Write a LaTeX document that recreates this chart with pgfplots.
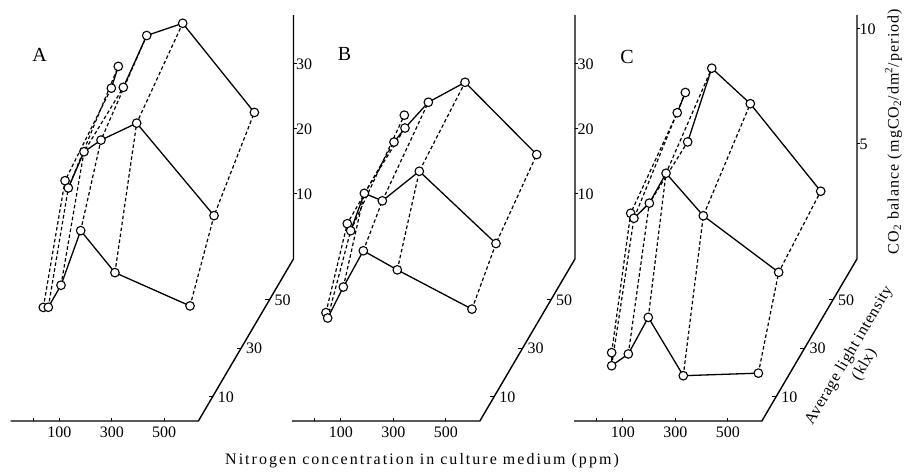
\documentclass[border=0pt]{standalone}
\usepackage{fontspec}
\setmainfont{Liberation Serif}
\usepackage{pgfplots}
\pgfplotsset{compat=1.18}
\newcommand\fs{\fontsize{16}{19}\selectfont}
\pgfplotsset{
  panel/.style={anchor=origin, x={(0.2625pt,0pt)}, y={(1.42pt,2.42pt)},
    xmin=-85, xmax=630, ymin=0, ymax=67, hide axis, clip=false},
  sol/.style={black, line width=1.3pt, no markers, solid},
  dsh/.style={black, line width=1.2pt, dash pattern=on 3.5pt off 2.5pt, no markers},
  pts/.style={only marks, mark=*, mark size=4.3pt,
    mark options={fill=white, draw=black, line width=1.1pt, solid}},
}
% frame of one panel: #1 = top of CO2 axis
\newcommand\frameNL[1]{%
  \draw[line width=1.4pt] (axis cs:-85,0,0) -- (axis cs:630,0,0) -- (axis cs:630,67,0) -- (axis cs:630,67,#1);
  \draw[line width=1pt] (axis cs:0,0,0) -- ++(0pt,3pt);
  \draw[line width=1pt] (axis cs:100,0,0) -- ++(0pt,3pt);
  \draw[line width=1pt] (axis cs:300,0,0) -- ++(0pt,3pt);
  \draw[line width=1pt] (axis cs:500,0,0) -- ++(0pt,3pt);
  \node[anchor=north, inner sep=0pt, yshift=-6pt, font=\fs] at (axis cs:100,0,0) {100};
  \node[anchor=north, inner sep=0pt, yshift=-6pt, font=\fs] at (axis cs:300,0,0) {300};
  \node[anchor=north, inner sep=0pt, yshift=-6pt, font=\fs] at (axis cs:500,0,0) {500};
  \draw[line width=1pt] (axis cs:630,10,0) -- ++(-4pt,0pt);
  \draw[line width=1pt] (axis cs:630,30,0) -- ++(-4pt,0pt);
  \draw[line width=1pt] (axis cs:630,50,0) -- ++(-4pt,0pt);
  \node[anchor=west, inner sep=0pt, xshift=5pt, font=\fs] at (axis cs:630,10,0) {10};
  \node[anchor=west, inner sep=0pt, xshift=5pt, font=\fs] at (axis cs:630,30,0) {30};
  \node[anchor=west, inner sep=0pt, xshift=5pt, font=\fs] at (axis cs:630,50,0) {50};
}
\begin{document}
\begin{tikzpicture}[x=1pt,y=1pt]
\useasboundingbox (0pt,0pt) rectangle (906pt,476pt);

% ---------------- Panel A ----------------
\begin{axis}[panel, at={(33pt,55pt)}, z={(0pt,6.5pt)}, zmin=0, zmax=37.5]
\frameNL{37.5}
\draw[line width=1pt] (axis cs:630,67,10) -- ++(3pt,0pt);
\draw[line width=1pt] (axis cs:630,67,20) -- ++(3pt,0pt);
\draw[line width=1pt] (axis cs:630,67,30) -- ++(3pt,0pt);
\node[anchor=west, inner sep=0pt, xshift=2.5pt, font=\fs] at (axis cs:630,67,10) {10};
\node[anchor=west, inner sep=0pt, xshift=2.5pt, font=\fs] at (axis cs:630,67,20) {20};
\node[anchor=west, inner sep=0pt, xshift=2.5pt, font=\fs] at (axis cs:630,67,30) {30};
\addplot3[dsh] coordinates {(15,4.5,15.8) (15,19.8,29.6) (15,52.4,31.7)};
\addplot3[dsh] coordinates {(35,4.3,15.9) (35,18.4,29.0) (35,53.6,34.6)};
\addplot3[dsh] coordinates {(85,4.0,19.4) (85,20.2,33.9) (85,47.9,33.5)};
\addplot3[dsh] coordinates {(160,4.0,27.8) (160,18.3,36.4) (160,50.5,40.5)};
\addplot3[dsh] coordinates {(290,4.1,21.3) (290,19.4,38.6) (290,51.8,41.9)};
\addplot3[dsh] coordinates {(575,4.3,16.1) (575,21.2,23.7) (575,49.6,29.0)};
\addplot3[sol] coordinates {(15,4.5,15.8) (35,4.3,15.9) (85,4.0,19.4) (160,4.0,27.8) (290,4.1,21.3) (575,4.3,16.1)};
\addplot3[sol] coordinates {(15,19.8,29.6) (35,18.4,29.0) (85,20.2,33.9) (160,18.3,36.4) (290,19.4,38.6) (575,21.2,23.7)};
\addplot3[sol] coordinates {(15,52.4,31.7) (35,53.6,34.6)};
\addplot3[sol] coordinates {(85,47.9,33.5) (160,50.5,40.5) (290,51.8,41.9) (575,49.6,29.0)};
\addplot3[pts] coordinates {
 (15,4.5,15.8) (35,4.3,15.9) (85,4.0,19.4) (160,4.0,27.8) (290,4.1,21.3) (575,4.3,16.1)
 (15,19.8,29.6) (35,18.4,29.0) (85,20.2,33.9) (160,18.3,36.4) (290,19.4,38.6) (575,21.2,23.7)
 (15,52.4,31.7) (35,53.6,34.6) (85,47.9,33.5) (160,50.5,40.5) (290,51.8,41.9) (575,49.6,29.0)};
\end{axis}

% ---------------- Panel B ----------------
\begin{axis}[panel, at={(314.5pt,55pt)}, z={(0pt,6.5pt)}, zmin=0, zmax=37.5]
\frameNL{37.5}
\draw[line width=1pt] (axis cs:630,67,10) -- ++(3pt,0pt);
\draw[line width=1pt] (axis cs:630,67,20) -- ++(3pt,0pt);
\draw[line width=1pt] (axis cs:630,67,30) -- ++(3pt,0pt);
\node[anchor=west, inner sep=0pt, xshift=2.5pt, font=\fs] at (axis cs:630,67,10) {10};
\node[anchor=west, inner sep=0pt, xshift=2.5pt, font=\fs] at (axis cs:630,67,20) {20};
\node[anchor=west, inner sep=0pt, xshift=2.5pt, font=\fs] at (axis cs:630,67,30) {30};
\addplot3[dsh] coordinates {(15,5.3,14.7) (15,20.3,22.8) (15,53.2,23.1)};
\addplot3[dsh] coordinates {(35,2.8,14.8) (35,19.0,22.2) (35,56.8,25.9)};
\addplot3[dsh] coordinates {(85,4.6,18.9) (85,19.4,27.8) (85,48.0,27.2)};
\addplot3[dsh] coordinates {(160,4.8,24.4) (160,18.2,27.1) (160,50.6,30.2)};
\addplot3[dsh] coordinates {(290,4.7,21.5) (290,20.2,30.9) (290,52.4,32.6)};
\addplot3[dsh] coordinates {(575,4.6,15.5) (575,21.5,19.3) (575,50.2,22.3)};
\addplot3[sol] coordinates {(15,5.3,14.7) (35,2.8,14.8) (85,4.6,18.9) (160,4.8,24.4) (290,4.7,21.5) (575,4.6,15.5)};
\addplot3[sol] coordinates {(15,20.3,22.8) (35,19.0,22.2) (85,19.4,27.8) (160,18.2,27.1) (290,20.2,30.9) (575,21.5,19.3)};
\addplot3[sol] coordinates {(15,53.2,23.1) (85,48.0,27.2) (160,50.6,30.2) (290,52.4,32.6) (575,50.2,22.3)};
\addplot3[pts] coordinates {
 (15,5.3,14.7) (35,2.8,14.8) (85,4.6,18.9) (160,4.8,24.4) (290,4.7,21.5) (575,4.6,15.5)
 (15,20.3,22.8) (35,19.0,22.2) (85,19.4,27.8) (160,18.2,27.1) (290,20.2,30.9) (575,21.5,19.3)
 (15,53.2,23.1) (35,56.8,25.9) (85,48.0,27.2) (160,50.6,30.2) (290,52.4,32.6) (575,50.2,22.3)};
\end{axis}

% ---------------- Panel C ----------------
\begin{axis}[panel, at={(596.5pt,55pt)}, z={(0pt,23pt)}, zmin=0, zmax=10.6]
\frameNL{10.6}
\draw[line width=1pt] (axis cs:630,67,5) -- ++(3pt,0pt);
\draw[line width=1pt] (axis cs:630,67,10) -- ++(3pt,0pt);
\node[anchor=west, inner sep=0pt, xshift=2.5pt, font=\fs] at (axis cs:630,67,5) {5};
\node[anchor=west, inner sep=0pt, xshift=2.5pt, font=\fs] at (axis cs:630,67,10) {10};
\addplot3[dsh] coordinates {(15,7.9,2.14) (15,21.3,6.79) (15,54.1,7.71)};
\addplot3[dsh] coordinates {(35,4.2,1.96) (35,19.9,6.72) (35,56.1,8.38)};
\addplot3[dsh] coordinates {(85,6.7,2.21) (85,21.5,7.21) (85,48.5,7.03)};
\addplot3[dsh] coordinates {(160,6.9,3.78) (160,19.4,8.73) (160,51.6,9.91)};
\addplot3[dsh] coordinates {(290,7.5,1.18) (290,21.6,6.65) (290,54.7,8.04)};
\addplot3[dsh] coordinates {(575,7.7,1.27) (575,22.0,4.15) (575,51.6,4.56)};
\addplot3[sol] coordinates {(15,7.9,2.14) (35,4.2,1.96) (85,6.7,2.21) (160,6.9,3.78) (290,7.5,1.18) (575,7.7,1.27)};
\addplot3[sol] coordinates {(15,21.3,6.79) (35,19.9,6.72) (85,21.5,7.21) (160,19.4,8.73) (290,21.6,6.65) (575,22.0,4.15)};
\addplot3[sol] coordinates {(15,54.1,7.71) (35,56.1,8.38)};
\addplot3[sol] coordinates {(85,48.5,7.03) (160,51.6,9.91) (290,54.7,8.04) (575,51.6,4.56)};
\addplot3[pts] coordinates {
 (15,7.9,2.14) (35,4.2,1.96) (85,6.7,2.21) (160,6.9,3.78) (290,7.5,1.18) (575,7.7,1.27)
 (15,21.3,6.79) (35,19.9,6.72) (85,21.5,7.21) (160,19.4,8.73) (290,21.6,6.65) (575,22.0,4.15)
 (15,54.1,7.71) (35,56.1,8.38) (85,48.5,7.03) (160,51.6,9.91) (290,54.7,8.04) (575,51.6,4.56)};
\end{axis}

% ---------------- Texts ----------------
\node[font=\fontsize{20}{24}\selectfont, inner sep=0pt] at (39.5pt,421pt) {A};
\node[font=\fontsize{20}{24}\selectfont, inner sep=0pt] at (344.5pt,422.5pt) {B};
\node[font=\fontsize{20}{24}\selectfont, inner sep=0pt] at (627pt,419pt) {C};
\node[inner sep=0pt, font=\fs\addfontfeature{LetterSpace=12.7}] at (422pt,15pt)
  {Nitrogen concentration in culture medium (ppm)};
\node[inner sep=0pt, rotate=90, font=\fs\addfontfeature{LetterSpace=7}] at (893.5pt,344.5pt)
  {CO\textsubscript{2} balance (mgCO\textsubscript{2}/dm\textsuperscript{2}/period)};
\node[inner sep=0pt, rotate=59.6, align=center, font=\fontsize{16}{18}\selectfont\addfontfeature{LetterSpace=4}] at (857pt,116pt)
  {Average light intensity\\(klx)};
\end{tikzpicture}
\end{document}
